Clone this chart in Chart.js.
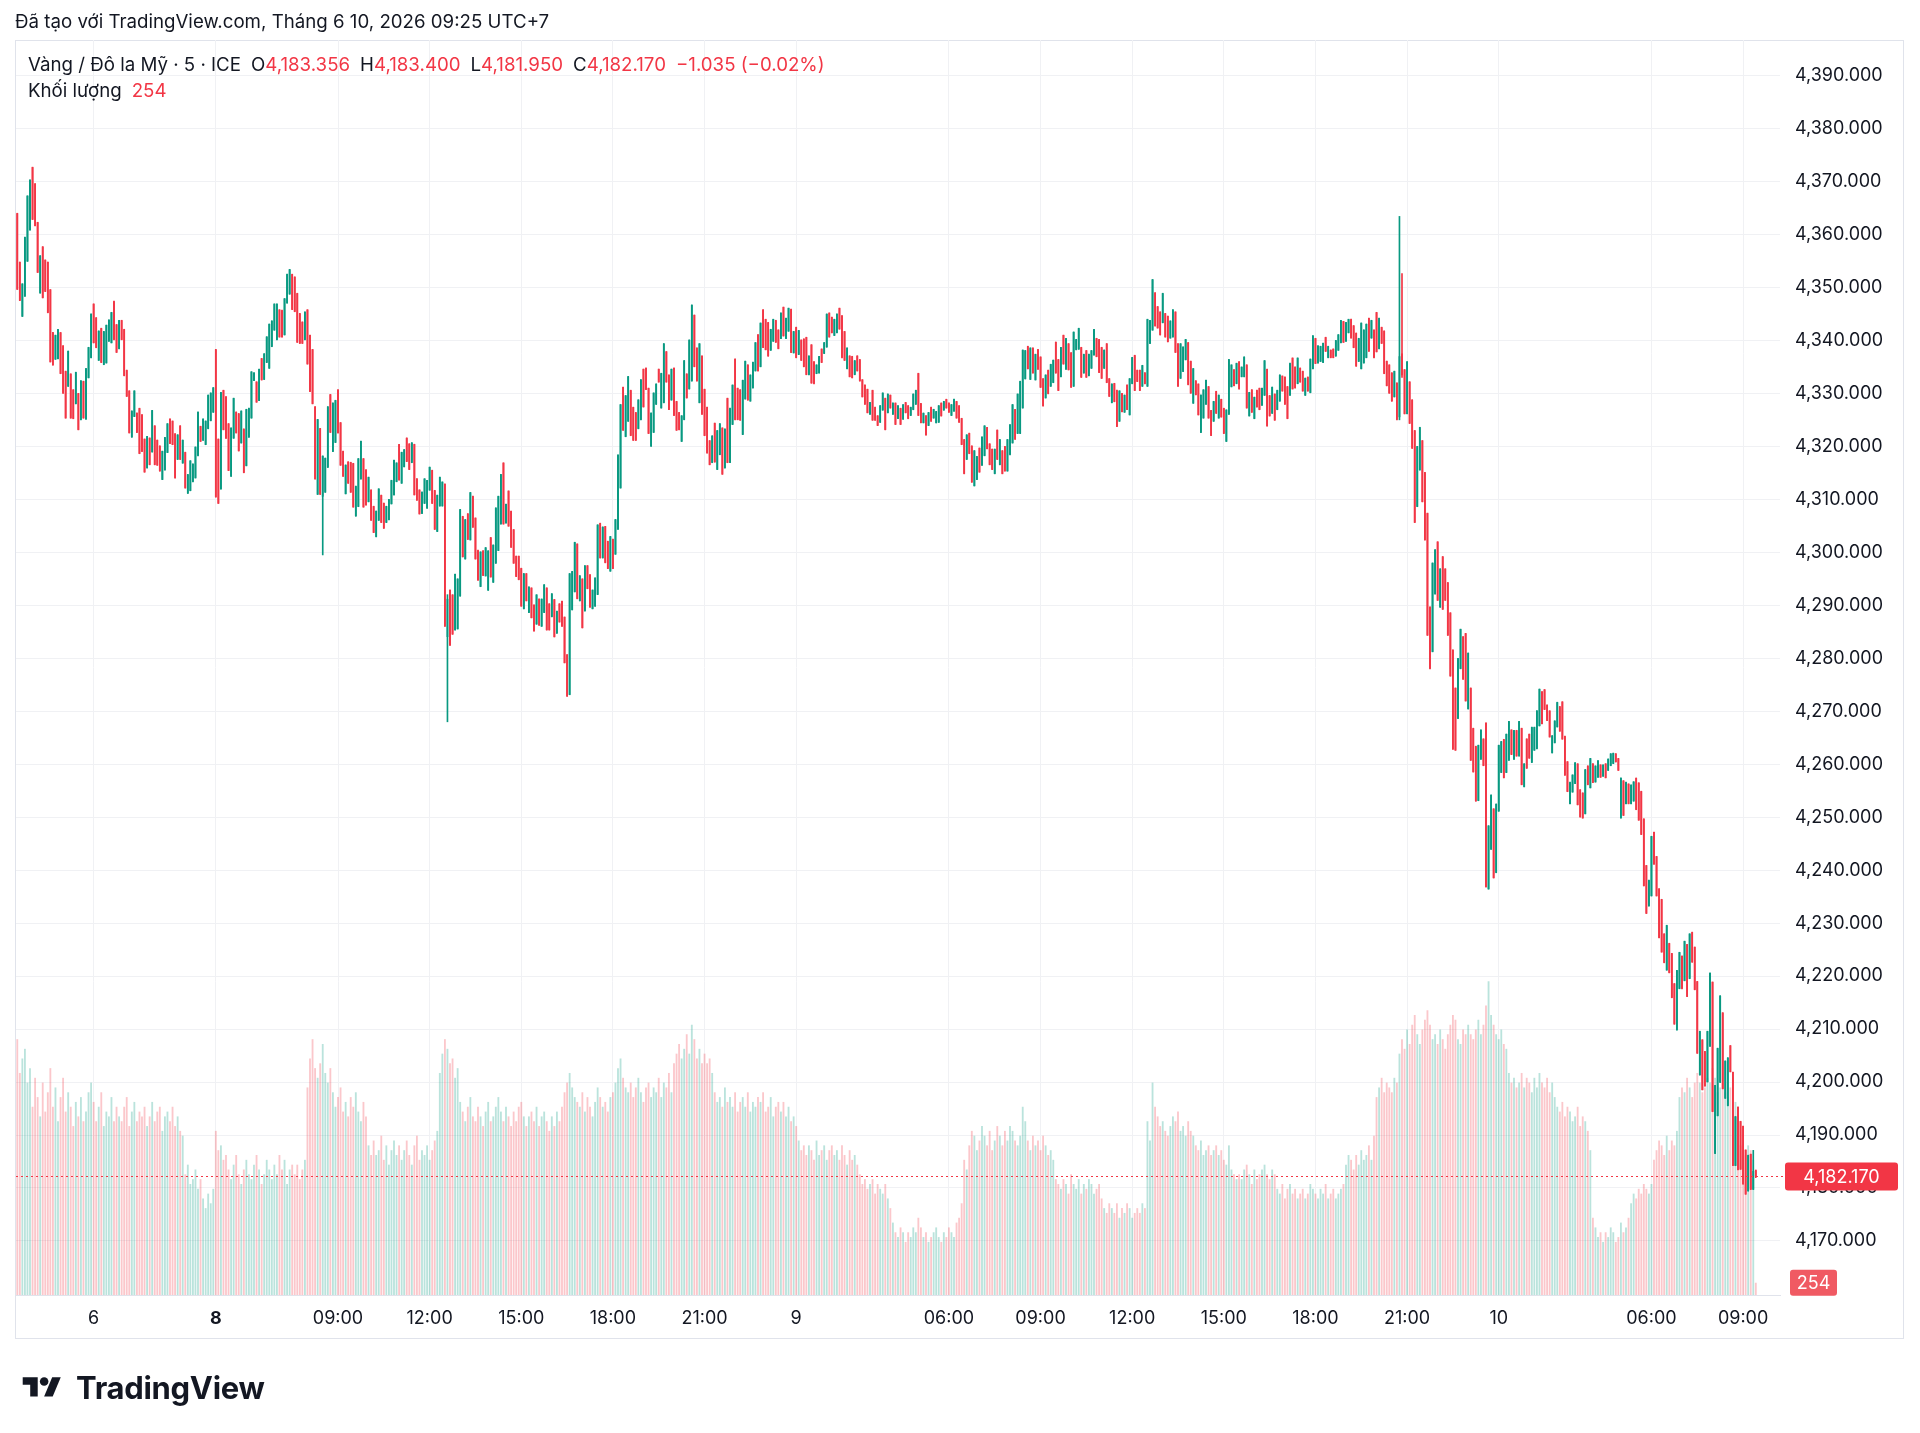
<!DOCTYPE html>
<html>
<head>
<meta charset="utf-8">
<script src="https://cdn.jsdelivr.net/npm/chart.js@4.4.1/dist/chart.umd.min.js"></script>
<style>
  html, body { margin: 0; padding: 0; background: #fff; }
  body { width: 1920px; height: 1433px; position: relative; overflow: hidden; font-family: Inter, 'Noto Sans', sans-serif; color: #131722; }
  #wrap { position: absolute; left: 0; top: 0; width: 1920px; height: 1433px; }
  .txt { position: absolute; white-space: pre; font-size: 18.7px; line-height: 1; }
  #created { left: 15px; top: 13px; }
  #legend1 { left: 28px; top: 56px; }
  #legend2 { left: 28px; top: 82px; }
  .red { color: #F23645; }
  .gap { margin-left: 10px; }
  #logo { position: absolute; left: 20px; top: 1369px; display: flex; align-items: center; font-weight: 700; font-size: 31px; letter-spacing: -0.3px; }
  #logo svg { margin-right: 12px; }
</style>
</head>
<body>
<div id="wrap"><canvas id="chart"></canvas></div>
<div class="txt" id="created">Đã tạo với TradingView.com, Tháng 6 10, 2026 09:25 UTC+7</div>
<div class="txt" id="legend1">Vàng / Đô la Mỹ · 5 · ICE<span class="gap">O</span><span class="red">4,183.356</span><span class="gap">H</span><span class="red">4,183.400</span><span class="gap">L</span><span class="red">4,181.950</span><span class="gap">C</span><span class="red">4,182.170</span><span class="red gap">−1.035 (−0.02%)</span></div>
<div class="txt" id="legend2">Khối lượng<span class="red gap">254</span></div>
<div id="logo"><svg width="44" height="30" viewBox="0 0 36 28"><path d="M14 22H7V11H0V4h14v18z" fill="#131722"/><circle cx="20" cy="8" r="4" fill="#131722"/><path d="M28 22h-8l7.5-18h8L28 22z" fill="#131722"/></svg>TradingView</div>
<script>
// trading sessions (day, first candle, number of 5-minute candles)
const sessions = [
  ['05', '21:30', 30],
  ['06', '00:00', 48],
  ['08', '05:00', 228],
  ['09', '00:00', 48],
  ['09', '05:00', 228],
  ['10', '00:00', 48],
  ['10', '05:00', 54],
  ['10', '09:30', 9]   // empty slots to the right of the last candle
];

const tickAt = ['06 00:00', '08 05:00', '08 09:00', '08 12:00', '08 15:00', '08 18:00', '08 21:00', '09 00:00',
  '09 06:00', '09 09:00', '09 12:00', '09 15:00', '09 18:00', '09 21:00', '10 00:00', '10 06:00', '10 09:00'];
const tickText = ['6', '8', '09:00', '12:00', '15:00', '18:00', '21:00', '9',
  '06:00', '09:00', '12:00', '15:00', '18:00', '21:00', '10', '06:00', '09:00'];

const opens = [
  4364.0, 4354.8, 4344.5, 4348.3, 4354.9, 4360.8, 4372.7, 4369.6, 4362.3, 4348.9, // 0
  4357.7, 4355.2, 4354.8, 4349.6, 4341.5, 4336.4, 4336.5, 4341.5, 4339.0, 4334.2, // 10
  4331.3, 4333.7, 4330.7, 4328.0, 4330.0, 4325.0, 4332.3, 4325.1, 4332.9, 4336.7, // 20
  4346.9, 4344.3, 4336.2, 4342.3, 4335.4, 4335.7, 4339.8, 4339.5, 4347.4, 4343.0, // 30
  4338.4, 4343.8, 4342.1, 4334.4, 4330.5, 4321.7, 4325.6, 4326.3, 4327.2, 4326.0, // 40
  4321.4, 4315.9, 4321.6, 4318.9, 4323.9, 4321.2, 4320.1, 4313.7, 4315.5, 4318.8, // 50
  4325.2, 4324.8, 4322.4, 4317.5, 4323.9, 4316.8, 4318.9, 4311.1, 4311.6, 4313.3, // 60
  4314.0, 4318.2, 4323.8, 4321.1, 4320.3, 4323.3, 4324.8, 4326.4, 4338.3, 4321.4, // 70
  4311.9, 4330.6, 4329.4, 4324.3, 4314.3, 4321.5, 4326.5, 4326.2, 4320.6, 4323.3, // 80
  4316.3, 4321.7, 4325.3, 4332.4, 4332.2, 4328.6, 4336.6, 4332.6, 4335.8, 4334.7, // 90
  4338.8, 4341.9, 4340.1, 4345.8, 4345.7, 4341.0, 4347.0, 4348.7, 4352.5, 4352.0, // 100
  4348.9, 4345.1, 4343.5, 4340.1, 4345.8, 4341.0, 4338.3, 4327.5, 4310.9, 4323.4, // 110
  4310.5, 4311.3, 4316.0, 4329.8, 4319.0, 4320.7, 4330.7, 4324.5, 4319.1, 4311.0, // 120
  4317.1, 4317.0, 4316.8, 4306.8, 4308.6, 4313.8, 4317.7, 4315.6, 4309.5, 4311.8, // 130
  4308.7, 4302.9, 4306.0, 4310.8, 4309.3, 4305.6, 4306.1, 4309.1, 4310.8, 4313.3, // 140
  4320.4, 4313.0, 4316.1, 4321.6, 4320.5, 4316.9, 4320.4, 4313.9, 4311.8, 4307.3, // 150
  4309.2, 4308.3, 4311.7, 4315.5, 4311.7, 4303.9, 4308.7, 4308.7, 4312.9, 4284.0, // 160
  4292.9, 4292.0, 4285.3, 4285.5, 4291.7, 4306.8, 4298.7, 4307.3, 4302.3, 4310.6, // 170
  4306.5, 4300.4, 4293.5, 4300.3, 4295.5, 4292.8, 4302.8, 4294.3, 4297.9, 4300.3, // 180
  4305.3, 4316.9, 4305.5, 4311.6, 4307.8, 4304.3, 4299.3, 4299.3, 4297.0, 4289.3, // 190
  4296.0, 4288.6, 4293.3, 4290.1, 4286.4, 4291.2, 4286.0, 4288.6, 4293.3, 4290.3, // 200
  4287.8, 4291.1, 4284.7, 4290.3, 4290.8, 4287.8, 4280.7, 4273.1, 4289.1, 4292.5, // 210
  4301.6, 4290.8, 4295.0, 4288.9, 4297.5, 4295.8, 4289.3, 4289.8, 4292.0, 4305.5, // 220
  4298.9, 4304.9, 4302.1, 4296.4, 4302.5, 4299.6, 4304.3, 4312.1, 4331.2, 4321.8, // 230
  4324.7, 4330.6, 4327.4, 4326.4, 4323.3, 4325.0, 4334.6, 4334.8, 4331.0, 4320.0, // 240
  4322.6, 4327.9, 4334.6, 4327.2, 4328.2, 4337.9, 4333.5, 4328.7, 4334.8, 4328.5, // 250
  4326.4, 4320.9, 4325.0, 4333.7, 4330.8, 4332.3, 4344.8, 4338.6, 4328.2, 4337.1, // 260
  4330.8, 4327.4, 4321.1, 4316.9, 4324.4, 4315.6, 4318.4, 4323.5, 4315.9, 4329.1, // 270
  4316.9, 4324.1, 4336.5, 4331.0, 4330.7, 4322.2, 4328.9, 4335.4, 4328.5, 4331.0, // 280
  4334.2, 4341.1, 4335.0, 4345.8, 4344.0, 4343.4, 4338.1, 4339.8, 4343.8, 4342.0, // 290
  4340.3, 4346.3, 4340.3, 4341.7, 4345.9, 4337.6, 4342.5, 4337.3, 4340.1, 4340.3, // 300
  4340.6, 4333.5, 4339.2, 4336.0, 4333.7, 4333.8, 4338.4, 4337.5, 4338.7, 4345.2, // 310
  4344.4, 4340.9, 4341.4, 4346.1, 4344.7, 4341.7, 4334.6, 4337.1, 4337.0, 4333.5, // 320
  4337.1, 4336.4, 4332.6, 4331.6, 4330.8, 4326.0, 4330.6, 4327.4, 4325.8, 4324.5, // 330
  4326.8, 4329.1, 4326.3, 4329.7, 4326.0, 4328.2, 4325.2, 4327.2, 4325.1, 4328.3, // 340
  4327.7, 4325.8, 4326.9, 4327.9, 4333.8, 4328.1, 4324.4, 4325.8, 4323.9, 4327.4, // 350
  4325.3, 4324.4, 4324.5, 4328.2, 4326.8, 4328.9, 4328.2, 4325.8, 4326.6, 4328.5, // 360
  4327.7, 4325.3, 4321.3, 4317.5, 4322.5, 4320.1, 4312.5, 4313.7, 4319.7, 4316.4, // 370
  4318.2, 4323.6, 4320.5, 4319.5, 4314.8, 4323.1, 4316.5, 4319.2, 4320.0, 4315.3, // 380
  4318.4, 4320.6, 4327.0, 4322.4, 4322.4, 4327.2, 4332.7, 4338.9, 4332.6, 4338.6, // 390
  4332.5, 4338.3, 4336.9, 4332.8, 4329.1, 4334.4, 4331.3, 4332.0, 4339.7, 4336.4, // 400
  4333.1, 4341.0, 4334.5, 4339.4, 4337.7, 4331.3, 4338.2, 4338.3, 4338.7, 4333.8, // 410
  4338.1, 4333.3, 4334.7, 4337.2, 4340.4, 4340.2, 4338.7, 4334.7, 4339.4, 4332.8, // 420
  4328.2, 4331.9, 4330.6, 4324.7, 4330.0, 4326.4, 4331.6, 4325.9, 4331.8, 4337.2, // 430
  4334.4, 4334.4, 4331.3, 4333.9, 4331.3, 4339.4, 4341.9, 4349.0, 4346.4, 4345.4, // 440
  4343.3, 4345.1, 4344.6, 4340.4, 4340.6, 4345.4, 4339.4, 4332.8, 4334.1, 4336.3, // 450
  4339.6, 4336.1, 4328.1, 4332.4, 4331.8, 4322.6, 4325.3, 4327.9, 4331.3, 4326.8, // 460
  4324.7, 4330.4, 4325.3, 4328.9, 4327.2, 4320.9, 4326.0, 4331.2, 4334.5, 4331.8, // 470
  4336.0, 4333.1, 4333.1, 4335.4, 4325.7, 4330.7, 4325.2, 4330.6, 4331.0, 4327.7, // 480
  4329.6, 4334.6, 4329.6, 4326.2, 4329.9, 4326.9, 4328.5, 4333.3, 4333.1, 4331.3, // 490
  4329.6, 4336.7, 4335.0, 4331.8, 4334.8, 4334.2, 4329.6, 4333.1, 4330.1, 4334.6, // 500
  4340.4, 4335.7, 4336.0, 4335.8, 4340.6, 4336.7, 4338.2, 4338.4, 4337.0, 4338.1, // 510
  4339.5, 4343.6, 4339.8, 4341.4, 4344.0, 4342.8, 4341.4, 4336.0, 4334.6, 4335.7, // 520
  4336.7, 4344.2, 4340.4, 4342.0, 4345.3, 4338.4, 4342.5, 4341.8, 4336.1, 4335.4, // 530
  4333.9, 4329.3, 4332.0, 4325.5, 4337.5, 4334.5, 4326.1, 4332.2, 4328.8, 4323.0, // 540
  4308.6, 4315.5, 4321.1, 4315.1, 4307.4, 4289.7, 4281.2, 4292.1, 4302.0, 4289.6, // 550
  4299.2, 4296.9, 4294.3, 4288.6, 4281.6, 4274.4, 4268.6, 4278.0, 4284.1, 4284.7, // 560
  4270.4, 4274.4, 4266.8, 4263.4, 4253.1, 4260.9, 4264.8, 4267.8, 4236.4, 4243.9, // 570
  4251.6, 4239.5, 4251.1, 4258.4, 4264.7, 4258.4, 4260.7, 4266.5, 4260.9, 4266.4, // 580
  4261.5, 4266.8, 4255.7, 4264.8, 4265.7, 4260.3, 4262.6, 4262.9, 4267.2, 4273.7, // 590
  4274.1, 4271.2, 4270.1, 4262.1, 4264.0, 4267.0, 4270.9, 4271.8, 4265.3, 4260.5, // 600
  4252.5, 4254.7, 4256.3, 4260.1, 4255.2, 4254.6, 4250.6, 4259.7, 4255.5, 4260.1, // 610
  4256.6, 4257.5, 4259.9, 4257.7, 4260.1, 4258.8, 4259.7, 4260.1, 4262.0, 4261.1, // 620
  4249.8, 4256.9, 4252.5, 4256.3, 4252.5, 4253.0, 4257.4, 4256.5, 4254.9, 4249.7, // 630
  4240.9, 4233.2, 4235.1, 4247.2, 4242.6, 4236.5, 4234.5, 4228.0, 4221.1, 4226.2, // 640
  4224.3, 4218.6, 4209.8, 4217.6, 4223.8, 4219.1, 4226.0, 4219.5, 4228.3, 4225.5, // 650
  4219.0, 4201.3, 4208.0, 4205.8, 4200.0, 4206.7, 4218.9, 4186.5, 4193.6, 4199.9, // 660
  4213.1, 4196.9, 4195.5, 4206.9, 4201.9, 4184.2, 4195.3, 4192.6, 4191.7, 4187.2, // 670
  4179.4, 4186.4, 4179.7, 4183.356                                                // 680
];

const closes = [
  4349.6, 4347.5, 4350.7, 4359.5, 4367.3, 4370.3, 4362.8, 4361.6, 4352.8, 4356.0, // 0
  4348.0, 4349.2, 4345.2, 4335.9, 4335.3, 4341.0, 4342.1, 4333.7, 4330.0, 4325.3, // 10
  4338.0, 4325.3, 4325.2, 4334.0, 4323.1, 4332.4, 4325.3, 4334.7, 4338.7, 4345.0, // 20
  4339.5, 4338.6, 4341.8, 4335.8, 4341.7, 4342.9, 4343.9, 4345.3, 4340.1, 4337.7, // 30
  4343.8, 4340.1, 4333.3, 4329.4, 4322.5, 4326.7, 4330.5, 4322.6, 4318.6, 4319.0, // 40
  4315.1, 4321.9, 4316.5, 4326.8, 4316.5, 4316.4, 4315.3, 4319.1, 4321.7, 4324.3, // 50
  4320.5, 4320.3, 4314.0, 4322.2, 4317.5, 4321.2, 4312.1, 4314.7, 4317.3, 4316.7, // 60
  4319.9, 4326.5, 4320.9, 4325.2, 4324.8, 4329.7, 4330.1, 4331.1, 4310.4, 4309.2, // 70
  4330.2, 4323.1, 4321.5, 4315.4, 4323.5, 4329.1, 4322.5, 4319.1, 4326.7, 4315.0, // 80
  4327.0, 4327.2, 4334.1, 4333.9, 4328.3, 4334.6, 4332.5, 4337.5, 4340.7, 4343.1, // 90
  4343.7, 4346.9, 4346.9, 4340.6, 4340.6, 4347.9, 4352.5, 4353.4, 4345.8, 4345.4, // 100
  4339.6, 4339.4, 4339.4, 4345.4, 4335.5, 4330.3, 4328.0, 4313.8, 4325.1, 4310.9, // 110
  4318.2, 4317.8, 4327.5, 4322.6, 4328.2, 4328.7, 4322.5, 4316.4, 4314.3, 4316.5, // 120
  4313.0, 4311.3, 4308.5, 4312.5, 4317.7, 4321.0, 4308.5, 4308.9, 4314.2, 4306.0, // 130
  4303.7, 4307.8, 4312.0, 4305.6, 4304.5, 4308.7, 4310.0, 4313.6, 4317.4, 4316.9, // 140
  4313.6, 4318.9, 4319.4, 4317.1, 4315.6, 4320.7, 4310.8, 4309.8, 4307.2, 4311.4, // 150
  4313.9, 4313.6, 4316.1, 4309.2, 4304.3, 4310.8, 4314.2, 4313.3, 4286.0, 4291.2, // 160
  4282.4, 4284.5, 4295.9, 4295.0, 4308.1, 4299.1, 4306.2, 4302.4, 4311.3, 4304.7, // 170
  4298.7, 4294.7, 4300.1, 4295.6, 4300.9, 4300.3, 4295.3, 4301.4, 4308.4, 4310.6, // 180
  4314.7, 4305.3, 4309.1, 4304.9, 4300.9, 4297.9, 4295.4, 4294.8, 4289.8, 4296.0, // 190
  4290.8, 4293.5, 4287.6, 4285.1, 4292.0, 4286.2, 4291.2, 4293.9, 4285.3, 4285.3, // 200
  4292.2, 4284.0, 4288.9, 4286.8, 4286.0, 4279.1, 4272.8, 4296.0, 4296.4, 4301.9, // 210
  4291.2, 4295.6, 4285.7, 4297.5, 4293.1, 4289.6, 4292.9, 4295.2, 4305.2, 4298.9, // 220
  4304.8, 4298.0, 4296.9, 4303.0, 4296.9, 4306.2, 4318.4, 4327.9, 4323.0, 4329.6, // 230
  4333.2, 4322.0, 4321.1, 4321.1, 4328.8, 4332.6, 4327.4, 4330.7, 4322.4, 4326.3, // 240
  4330.1, 4331.8, 4332.1, 4333.8, 4339.4, 4332.1, 4326.9, 4334.6, 4325.8, 4323.0, // 250
  4323.1, 4325.8, 4336.2, 4329.1, 4340.1, 4346.7, 4335.0, 4332.3, 4339.4, 4326.0, // 260
  4322.0, 4318.7, 4316.5, 4322.0, 4317.0, 4323.0, 4324.3, 4314.7, 4323.3, 4316.9, // 270
  4327.2, 4331.6, 4325.0, 4325.0, 4324.9, 4332.5, 4336.1, 4328.7, 4333.5, 4335.9, // 280
  4339.6, 4334.2, 4343.3, 4338.6, 4338.2, 4337.0, 4342.1, 4344.0, 4339.6, 4338.4, // 290
  4345.2, 4340.8, 4344.2, 4346.1, 4337.7, 4341.7, 4336.7, 4341.9, 4336.2, 4335.0, // 300
  4333.5, 4337.1, 4331.9, 4331.8, 4335.4, 4337.0, 4335.8, 4339.6, 4345.0, 4340.6, // 310
  4341.4, 4344.0, 4345.0, 4342.1, 4336.7, 4336.2, 4338.6, 4333.1, 4332.9, 4336.2, // 320
  4334.2, 4332.3, 4329.3, 4327.9, 4326.3, 4328.3, 4324.9, 4324.9, 4323.9, 4327.7, // 330
  4330.1, 4323.1, 4329.9, 4327.2, 4328.2, 4324.1, 4327.7, 4324.1, 4327.9, 4326.3, // 340
  4325.2, 4327.4, 4329.9, 4330.6, 4325.8, 4324.4, 4326.3, 4322.1, 4326.4, 4324.7, // 350
  4327.0, 4326.6, 4327.7, 4325.7, 4328.5, 4327.2, 4326.4, 4327.9, 4328.9, 4325.3, // 360
  4324.5, 4320.3, 4314.8, 4322.2, 4318.6, 4313.2, 4319.2, 4318.1, 4315.1, 4321.8, // 370
  4323.9, 4319.5, 4316.5, 4315.6, 4319.5, 4317.5, 4321.3, 4314.8, 4315.3, 4321.3, // 380
  4324.1, 4327.9, 4321.3, 4329.9, 4332.3, 4338.2, 4338.1, 4334.6, 4338.6, 4333.8, // 390
  4337.4, 4334.5, 4331.1, 4327.6, 4333.5, 4329.9, 4335.5, 4336.3, 4333.8, 4330.5, // 400
  4338.7, 4335.5, 4340.4, 4334.4, 4331.1, 4341.6, 4340.2, 4342.3, 4333.0, 4337.4, // 410
  4333.0, 4337.4, 4338.1, 4342.1, 4336.9, 4333.9, 4332.8, 4338.2, 4332.0, 4329.4, // 420
  4331.8, 4328.4, 4323.7, 4330.5, 4326.5, 4329.7, 4326.9, 4332.8, 4336.8, 4330.5, // 430
  4332.2, 4330.5, 4335.3, 4331.8, 4344.0, 4343.8, 4351.5, 4342.7, 4342.3, 4341.0, // 440
  4348.9, 4340.6, 4339.7, 4343.7, 4345.8, 4337.7, 4331.3, 4339.4, 4338.8, 4340.2, // 450
  4331.6, 4330.0, 4334.7, 4329.7, 4325.9, 4329.7, 4330.7, 4332.5, 4325.3, 4322.0, // 460
  4328.5, 4326.2, 4329.7, 4325.5, 4322.4, 4326.9, 4336.4, 4335.4, 4331.4, 4335.7, // 470
  4330.8, 4335.0, 4336.9, 4327.2, 4330.2, 4326.4, 4329.3, 4327.4, 4326.9, 4331.0, // 480
  4336.2, 4323.8, 4325.7, 4331.2, 4324.9, 4330.6, 4333.5, 4330.4, 4327.9, 4325.2, // 490
  4335.7, 4330.8, 4331.0, 4336.7, 4332.1, 4330.4, 4332.9, 4330.4, 4336.5, 4340.9, // 500
  4335.6, 4339.0, 4338.9, 4339.5, 4337.9, 4338.9, 4336.7, 4336.7, 4340.0, 4341.1, // 510
  4343.8, 4339.6, 4343.4, 4344.0, 4340.4, 4338.6, 4335.1, 4340.4, 4343.3, 4342.0, // 520
  4343.1, 4337.9, 4343.8, 4336.7, 4337.8, 4344.2, 4339.4, 4333.7, 4331.4, 4330.0, // 530
  4328.5, 4334.2, 4325.0, 4337.0, 4333.4, 4326.1, 4336.0, 4324.3, 4319.6, 4305.6, // 540
  4320.0, 4323.6, 4309.5, 4302.3, 4284.3, 4278.0, 4298.0, 4300.5, 4290.9, 4296.9, // 550
  4289.2, 4290.9, 4284.3, 4276.6, 4262.8, 4262.6, 4280.0, 4285.5, 4276.0, 4271.9, // 560
  4281.0, 4260.7, 4258.5, 4253.0, 4263.6, 4266.5, 4259.7, 4236.8, 4248.4, 4254.2, // 570
  4238.5, 4252.5, 4263.6, 4264.3, 4257.4, 4265.7, 4268.1, 4261.8, 4266.4, 4261.5, // 580
  4268.1, 4256.1, 4260.1, 4259.2, 4261.1, 4267.0, 4267.0, 4270.1, 4274.2, 4267.6, // 590
  4270.3, 4268.2, 4265.1, 4265.4, 4268.2, 4271.7, 4266.2, 4264.7, 4257.9, 4254.8, // 600
  4256.6, 4258.0, 4260.3, 4252.3, 4250.0, 4249.8, 4259.0, 4256.1, 4261.1, 4256.5, // 610
  4259.7, 4260.7, 4257.5, 4259.9, 4257.4, 4261.0, 4262.0, 4262.1, 4260.4, 4258.8, // 620
  4257.4, 4250.3, 4256.6, 4252.5, 4256.1, 4256.7, 4251.4, 4249.4, 4246.7, 4237.0, // 630
  4231.8, 4238.1, 4246.4, 4241.1, 4235.1, 4227.2, 4224.5, 4222.5, 4229.6, 4220.6, // 640
  4215.9, 4210.9, 4221.1, 4224.5, 4217.6, 4226.6, 4216.1, 4228.0, 4222.6, 4217.4, // 650
  4205.4, 4209.6, 4198.5, 4199.2, 4209.6, 4220.6, 4194.4, 4199.4, 4206.4, 4216.3, // 660
  4198.7, 4204.0, 4204.6, 4201.9, 4184.2, 4193.5, 4183.4, 4183.5, 4180.7, 4178.8, // 670
  4186.2, 4179.7, 4183.205, 4182.17                                               // 680
];

// candles whose wicks stick out visibly beyond the body
const wickAt = [120, 169, 543, 544, 682, 683];
const wickHigh = [4318.2, 4292.0, 4363.4, 4352.6, 4187.1, 4183.4];
const wickLow = [4299.5, 4268.0, 4325.0, 4333.0, 4179.7, 4181.95];

const volumes = [
  5300, 4600, 4900, 5100, 4400, 4700, 3900, 4500, 4100, 3700, // 0
  4400, 3800, 4200, 4700, 3900, 4300, 3600, 4100, 4500, 3800, // 10
  4200, 3900, 3500, 4000, 3700, 4100, 3600, 3800, 4200, 4400, // 20
  4000, 3600, 3900, 4200, 3500, 3800, 3700, 4100, 3600, 3900, // 30
  3700, 3600, 3900, 4100, 3500, 3800, 4000, 3600, 3800, 3700, // 40
  3900, 3500, 3700, 4000, 3600, 3800, 3900, 3400, 3700, 3800, // 50
  3600, 3900, 3500, 3700, 3400, 3300, 2500, 2700, 2300, 2400, // 60
  2600, 2200, 2400, 2000, 1800, 2100, 1900, 2200, 3400, 3000, // 70
  3100, 2800, 2900, 2600, 2400, 2700, 2900, 2500, 2300, 2600, // 80
  2800, 2500, 2400, 2700, 2900, 2600, 2300, 2500, 2800, 2600, // 90
  2400, 2700, 2500, 2900, 2600, 2800, 2300, 2600, 2700, 2500, // 100
  2700, 2400, 2600, 2800, 4300, 4900, 5300, 4700, 4500, 4800, // 110
  5200, 4600, 4400, 4700, 4200, 3900, 4100, 4300, 3800, 4000, // 120
  3700, 4100, 3900, 4200, 3800, 3600, 4000, 3700, 3100, 2900, // 130
  3200, 2900, 3000, 3300, 2800, 3100, 2700, 3000, 3200, 2900, // 140
  3100, 2800, 3000, 3200, 2900, 2700, 3100, 3300, 2800, 3000, // 150
  2900, 3100, 2800, 3000, 3200, 3400, 4600, 5000, 5300, 5100, // 160
  4800, 4900, 4500, 4700, 4000, 3800, 3600, 3900, 4100, 3700, // 170
  3600, 3900, 3700, 3500, 3800, 4000, 3600, 3700, 3900, 4100, // 180
  3800, 3600, 3900, 3700, 3500, 3800, 3600, 3900, 4000, 3700, // 190
  3500, 3700, 3800, 3600, 3900, 3500, 3700, 3800, 3600, 3400, // 200
  3700, 3500, 3800, 3600, 3900, 4200, 4400, 4600, 4300, 4100, // 210
  4000, 3900, 4200, 3800, 4100, 3900, 3700, 4000, 4300, 4100, // 220
  3900, 4000, 3800, 4100, 4200, 4400, 4700, 4900, 4500, 4300, // 230
  4200, 4400, 4100, 4300, 4500, 4200, 4000, 4300, 4400, 4100, // 240
  4300, 4200, 4500, 4100, 4400, 4300, 4600, 4200, 4800, 5000, // 250
  5200, 4900, 5100, 5400, 5000, 5600, 5300, 4900, 5100, 4800, // 260
  5000, 4800, 4900, 4600, 4200, 4000, 4100, 3900, 4300, 4000, // 270
  4100, 3900, 4200, 3800, 4000, 4100, 3900, 4200, 3800, 4000, // 280
  3900, 4100, 4000, 4200, 3800, 3900, 4100, 3700, 3900, 4000, // 290
  3800, 4000, 3700, 3900, 3600, 3700, 3500, 3200, 3000, 3100, // 300
  2900, 3100, 3000, 2800, 3200, 2900, 3000, 3100, 2800, 3000, // 310
  3100, 2900, 3000, 2800, 3100, 2900, 2700, 3000, 2800, 2900, // 320
  2700, 2500, 2300, 2400, 2200, 2300, 2400, 2100, 2300, 2200, // 330
  2100, 2300, 2000, 1800, 1500, 1300, 1200, 1400, 1300, 1100, // 340
  1300, 1200, 1400, 1300, 1600, 1400, 1200, 1300, 1100, 1200, // 350
  1300, 1400, 1200, 1100, 1300, 1200, 1400, 1300, 1200, 1500, // 360
  1600, 1900, 2800, 2600, 3100, 3400, 3300, 3000, 3200, 3500, // 370
  3300, 3100, 3400, 3000, 3200, 3500, 3300, 3100, 3400, 3200, // 380
  3500, 3400, 3200, 3100, 3300, 3900, 3600, 3200, 3000, 3300, // 390
  3100, 3200, 3000, 3300, 3100, 2900, 3000, 2800, 2400, 2300, // 400
  2200, 2400, 2300, 2100, 2500, 2300, 2200, 2400, 2100, 2300, // 410
  2200, 2400, 2300, 2100, 2200, 2300, 2000, 1800, 1700, 1900, // 420
  1800, 1700, 1900, 1600, 1800, 1700, 1900, 1800, 1600, 1700, // 430
  1800, 1700, 1900, 1800, 3600, 3200, 4400, 3900, 3700, 3500, // 440
  3600, 3400, 3300, 3500, 3700, 3600, 3800, 3400, 3500, 3300, // 450
  3600, 3400, 3300, 3100, 3000, 3200, 2900, 3000, 3100, 2900, // 460
  3000, 3100, 2900, 3000, 2800, 2700, 3100, 2600, 2500, 2400, // 470
  2500, 2400, 2600, 2700, 2500, 2300, 2600, 2400, 2500, 2600, // 480
  2700, 2500, 2400, 2600, 2500, 2200, 2100, 2300, 2000, 2200, // 490
  2300, 2100, 2200, 2000, 2100, 2200, 2000, 2100, 2300, 2200, // 500
  2100, 2000, 2200, 2100, 2300, 2000, 2100, 2200, 2000, 2100, // 510
  2200, 2300, 2700, 2900, 2800, 2600, 2900, 2700, 3000, 2800, // 520
  2900, 3100, 2800, 3300, 4100, 4300, 4500, 4200, 4400, 4300, // 530
  4200, 4500, 4400, 5000, 5300, 5100, 5500, 5200, 5600, 5800, // 540
  5400, 5200, 5500, 5700, 5900, 5600, 5300, 5400, 5200, 5500, // 550
  5300, 5100, 5400, 5600, 5800, 5700, 5300, 5200, 5500, 5400, // 560
  5600, 5400, 5300, 5500, 5700, 5400, 5600, 6000, 6500, 5800, // 570
  5600, 5400, 5300, 5500, 5200, 5100, 4600, 4400, 4500, 4300, // 580
  4400, 4600, 4300, 4500, 4400, 4200, 4500, 4300, 4600, 4400, // 590
  4300, 4500, 4200, 4400, 4100, 3900, 3800, 4000, 3700, 3900, // 600
  3800, 3600, 3700, 3900, 3500, 3700, 3600, 3400, 3000, 1600, // 610
  1400, 1200, 1300, 1100, 1300, 1200, 1400, 1300, 1100, 1200, // 620
  1500, 1300, 1400, 1600, 1900, 2100, 2000, 2200, 2100, 2300, // 630
  2200, 2100, 2300, 2800, 3000, 3200, 3100, 2900, 3300, 3000, // 640
  3200, 3100, 3400, 4100, 4300, 4200, 4500, 4300, 4100, 4400, // 650
  4600, 4400, 4200, 4300, 4500, 4400, 4700, 4500, 4200, 4300, // 660
  4400, 4200, 4100, 4300, 4500, 4000, 3200, 3100, 3000, 2900, // 670
  3100, 3000, 2800, 254                                       // 680
];

const UP = '#089981';
const DOWN = '#F23645';
const UP_VOL = 'rgba(8, 153, 129, 0.28)';
const DOWN_VOL = 'rgba(242, 54, 69, 0.28)';
const GRID = '#f0f1f4';
const FONT = "Inter, 'Noto Sans', sans-serif";

function buildLabels() {
  const out = [];
  sessions.forEach(([day, start, count]) => {
    let [h, m] = start.split(':').map(Number);
    for (let k = 0; k < count; k++) {
      out.push(day + ' ' + String(h).padStart(2, '0') + ':' + String(m).padStart(2, '0'));
      m += 5;
      if (m === 60) { m = 0; h++; }
    }
  });
  return out;
}

const labels = buildLabels();
const tickIdx = tickAt.map(t => labels.indexOf(t));
const tickMap = new Map(tickIdx.map((v, k) => [v, tickText[k]]));

const highs = opens.map((o, i) => Math.max(o, closes[i]));
const lows = opens.map((o, i) => Math.min(o, closes[i]));
wickAt.forEach((idx, k) => {
  highs[idx] = Math.max(highs[idx], wickHigh[k]);
  lows[idx] = Math.min(lows[idx], wickLow[k]);
});

const isUp = opens.map((o, i) => closes[i] >= o);
const bodyData = opens.map((o, i) => [o, closes[i]]);
const wickData = lows.map((l, i) => [l, highs[i]]);

function fmtPrice(v) {
  return v.toLocaleString('en-US', { minimumFractionDigits: 3, maximumFractionDigits: 3 });
}

function roundRect(ctx, x, y, w, h, r) {
  ctx.beginPath();
  ctx.moveTo(x + r, y);
  ctx.lineTo(x + w - r, y);
  ctx.quadraticCurveTo(x + w, y, x + w, y + r);
  ctx.lineTo(x + w, y + h - r);
  ctx.quadraticCurveTo(x + w, y + h, x + w - r, y + h);
  ctx.lineTo(x + r, y + h);
  ctx.quadraticCurveTo(x, y + h, x, y + h - r);
  ctx.lineTo(x, y + r);
  ctx.quadraticCurveTo(x, y, x + r, y);
  ctx.closePath();
}

// frame, last price line and the two value tags on the right
const overlayPlugin = {
  id: 'overlay',
  beforeDraw(chart) {
    const ctx = chart.ctx;
    ctx.save();
    ctx.strokeStyle = '#e0e3eb';
    ctx.lineWidth = 1;
    ctx.strokeRect(15.5, 40.5, 1888, 1298);
    ctx.restore();
  },
  afterDatasetsDraw(chart) {
    const { ctx, chartArea, scales } = chart;
    const last = closes.length - 1;
    const y = Math.round(scales.y.getPixelForValue(closes[last])) + 0.5;
    ctx.save();
    ctx.strokeStyle = DOWN;
    ctx.lineWidth = 1;
    ctx.setLineDash([2, 3]);
    ctx.beginPath();
    ctx.moveTo(chartArea.left, y);
    ctx.lineTo(chartArea.right + 4, y);
    ctx.stroke();
    ctx.setLineDash([]);

    ctx.font = '18px ' + FONT;
    ctx.textBaseline = 'middle';
    ctx.textAlign = 'center';

    ctx.fillStyle = DOWN;
    roundRect(ctx, chartArea.right + 5, y - 14, 113, 28, 3);
    ctx.fill();
    ctx.fillStyle = '#fff';
    ctx.fillText(fmtPrice(closes[last]), chartArea.right + 5 + 56.5, y + 1);

    const vy = scales.yv.getPixelForValue(volumes[last]);
    ctx.fillStyle = '#f05a63';
    roundRect(ctx, chartArea.right + 10, vy - 13, 47, 26, 3);
    ctx.fill();
    ctx.fillStyle = '#fff';
    ctx.fillText(String(volumes[last]), chartArea.right + 10 + 23.5, vy + 1);
    ctx.restore();
  }
};

new Chart(document.getElementById('chart'), {
  type: 'bar',
  data: {
    labels,
    datasets: [
      {
        label: 'body',
        data: bodyData,
        backgroundColor: isUp.map(u => u ? UP : DOWN),
        barPercentage: 0.72,
        categoryPercentage: 1,
        grouped: false,
        minBarLength: 1,
        yAxisID: 'y',
        order: 1
      },
      {
        label: 'wick',
        data: wickData,
        backgroundColor: isUp.map(u => u ? UP : DOWN),
        barThickness: 1,
        grouped: false,
        yAxisID: 'y',
        order: 2
      },
      {
        label: 'volume',
        data: volumes,
        backgroundColor: isUp.map(u => u ? UP_VOL : DOWN_VOL),
        barPercentage: 0.72,
        categoryPercentage: 1,
        grouped: false,
        yAxisID: 'yv',
        order: 3
      }
    ]
  },
  options: {
    responsive: true,
    maintainAspectRatio: false,
    animation: false,
    devicePixelRatio: 1,
    layout: { padding: { left: 16, top: 40, right: 0, bottom: 0 } },
    plugins: {
      legend: { display: false },
      tooltip: { enabled: false }
    },
    scales: {
      x: {
        type: 'category',
        offset: true,
        grid: { offset: false, color: GRID, drawTicks: false },
        border: { display: true, color: '#e0e3eb' },
        ticks: {
          autoSkip: false,
          maxRotation: 0,
          padding: 13,
          color: '#131722',
          font: (c) => ({ family: FONT, size: 18, weight: c.tick && c.tick.label === '8' ? '700' : '400' }),
          callback: (v) => tickMap.get(v)
        },
        afterBuildTicks: (scale) => { scale.ticks = tickIdx.map(v => ({ value: v })); },
        afterFit: (scale) => { scale.height = 138; }
      },
      y: {
        position: 'right',
        min: 4159.8,
        max: 4396.7,
        grid: { color: GRID, drawTicks: false },
        border: { display: false },
        ticks: {
          stepSize: 10,
          includeBounds: false,
          padding: 15,
          color: '#131722',
          font: { family: FONT, size: 18 },
          callback: (v) => fmtPrice(v)
        },
        // the lowest level sits on the time axis and carries no label
        afterBuildTicks: (scale) => { scale.ticks = scale.ticks.filter(t => t.value > 4165); },
        afterFit: (scale) => { scale.width = 140; }
      },
      yv: {
        display: false,
        min: 0,
        max: 26000
      }
    }
  },
  plugins: [overlayPlugin]
});
</script>
</body>
</html>
